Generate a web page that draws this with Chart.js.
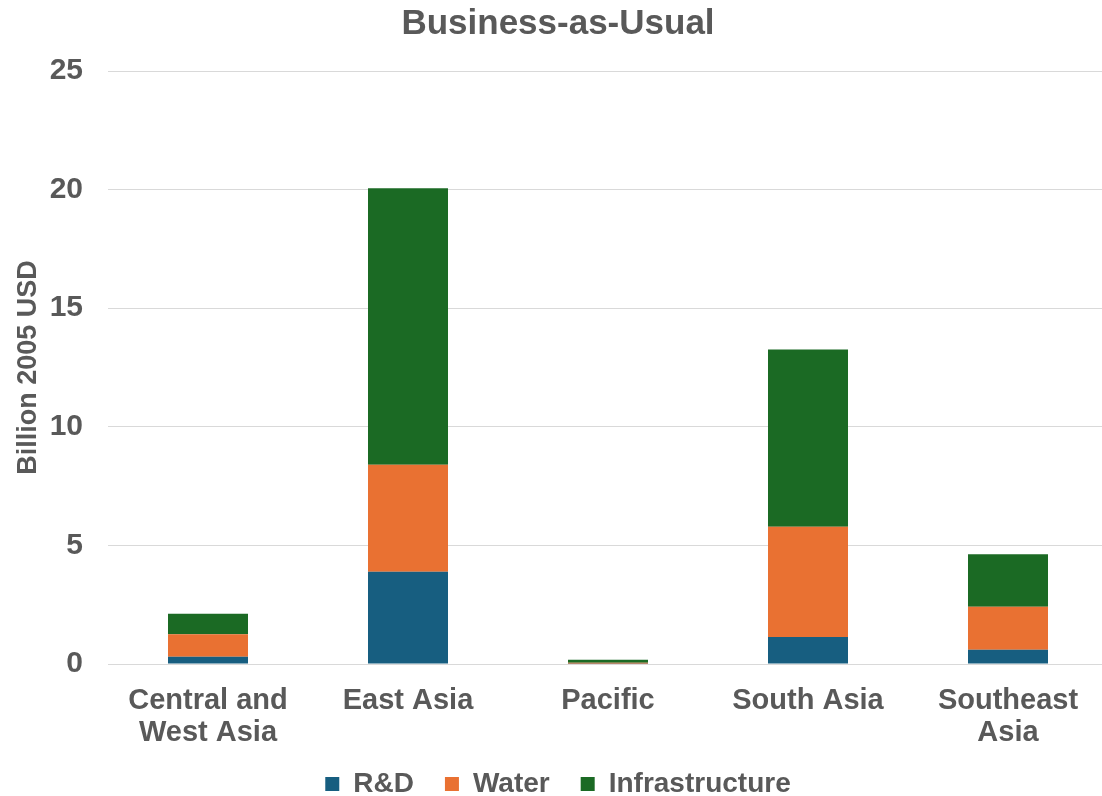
<!DOCTYPE html>
<html>
<head>
<meta charset="utf-8">
<script src="https://cdn.jsdelivr.net/npm/chart.js@4/dist/chart.umd.min.js"></script>
<style>
  html, body { margin: 0; padding: 0; background: #fff; overflow: hidden; }
  #wrap { width: 1112px; height: 796px; }
</style>
</head>
<body>
<div id="wrap"><canvas id="grafico"></canvas></div>
<script>
// regioes e valores (bilhoes USD 2005)
const regioes = [["Central and", "West Asia"], "East Asia", "Pacific", "South Asia", ["Southeast", "Asia"]];
const pesquisa = [0.31, 3.89, 0.01, 1.14, 0.60];
const agua = [0.94, 4.51, 0.04, 4.65, 1.81];
const infraestrutura = [0.87, 11.66, 0.13, 7.47, 2.22];

const cinza = "#595959";
const fonte = "'Liberation Sans', Arial, sans-serif";

Chart.defaults.font.family = fonte;
Chart.defaults.color = cinza;

const dados = {
    labels: regioes,
    datasets: [
        { label: "R&D", data: pesquisa, backgroundColor: "#175E80" },
        { label: "Water", data: agua, backgroundColor: "#E97132" },
        { label: "Infrastructure", data: infraestrutura, backgroundColor: "#1B6A24" }
    ]
};

const config = {
    type: "bar",
    data: dados,
    options: {
        responsive: true,
        maintainAspectRatio: false,
        animation: false,
        layout: { padding: { left: 8, right: 4, top: 0, bottom: -12 } },
        datasets: { bar: { barPercentage: 0.4, categoryPercentage: 1.0 } },
        plugins: {
            title: {
                display: true,
                text: "Business-as-Usual",
                color: cinza,
                font: { size: 35, weight: "bold" },
                padding: { top: 3, bottom: 26 }
            },
            legend: {
                position: "bottom",
                labels: {
                    color: cinza,
                    font: { size: 28, weight: "bold" },
                    boxWidth: 14,
                    boxHeight: 14,
                    padding: 31
                }
            },
            tooltip: { enabled: false }
        },
        scales: {
            x: {
                stacked: true,
                grid: { display: false },
                border: { display: true, color: "#d9d9d9" },
                ticks: { color: cinza, font: { size: 29, weight: "bold", lineHeight: 1.1 }, maxRotation: 0, padding: 13 },
                afterFit: function (escala) {
                    // altura fixa da area dos rotulos; a segunda linha passa um pouco dela
                    escala.height = 75;
                    escala._computeLabelArea = function () { return undefined; };
                }
            },
            y: {
                stacked: true,
                min: 0,
                max: 25,
                ticks: { stepSize: 5, color: cinza, font: { size: 30, weight: "bold" }, padding: 25 },
                grid: { color: "#d9d9d9", drawTicks: false },
                border: { display: false },
                title: {
                    display: true,
                    text: "Billion 2005 USD",
                    color: cinza,
                    font: { size: 27, weight: "bold" },
                    padding: { top: 4, bottom: 7 }
                },
                afterFit: function (escala) { escala.width = 100; }
            }
        }
    }
};

new Chart(document.getElementById("grafico"), config);
</script>
</body>
</html>
